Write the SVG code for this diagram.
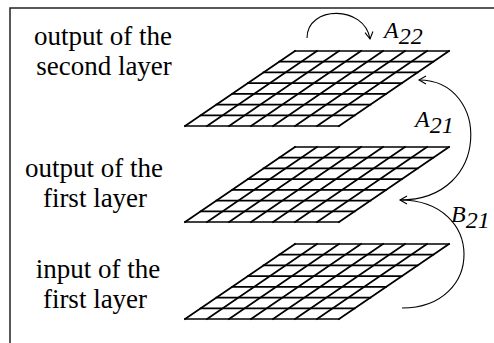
<svg xmlns="http://www.w3.org/2000/svg" xmlns:xlink="http://www.w3.org/1999/xlink" width="494" height="343" viewBox="0 0 494 343">
<style>
.frame{fill:none;stroke:#222;stroke-width:1.5}
.grid line{stroke:#000;stroke-width:1.7;stroke-linecap:square}
.lbl{font-family:"Liberation Serif","Times New Roman",serif;font-size:27px;fill:#000;text-anchor:middle}
.mat{font-family:"Liberation Serif","Times New Roman",serif;font-size:24px;font-style:italic;fill:#000}
.arc{fill:none;stroke:#000;stroke-width:1.1}
</style>
<defs>
<marker id="chev" viewBox="-8 -5 10 10" refX="0" refY="0" markerWidth="10" markerHeight="10" markerUnits="userSpaceOnUse" orient="auto">
<path d="M-7,-4 L0,0 L-7,4" fill="none" stroke="#000" stroke-width="1.1"/>
</marker>
<g id="grid" class="grid">
<line x1="110" y1="0" x2="264" y2="0"/>
<line x1="94.29" y1="10.71" x2="248.29" y2="10.71"/>
<line x1="78.57" y1="21.43" x2="232.57" y2="21.43"/>
<line x1="62.86" y1="32.14" x2="216.86" y2="32.14"/>
<line x1="47.14" y1="42.86" x2="201.14" y2="42.86"/>
<line x1="31.43" y1="53.57" x2="185.43" y2="53.57"/>
<line x1="15.71" y1="64.29" x2="169.71" y2="64.29"/>
<line x1="0" y1="75" x2="154" y2="75"/>
<line x1="110" y1="0" x2="0" y2="75"/>
<line x1="132" y1="0" x2="22" y2="75"/>
<line x1="154" y1="0" x2="44" y2="75"/>
<line x1="176" y1="0" x2="66" y2="75"/>
<line x1="198" y1="0" x2="88" y2="75"/>
<line x1="220" y1="0" x2="110" y2="75"/>
<line x1="242" y1="0" x2="132" y2="75"/>
<line x1="264" y1="0" x2="154" y2="75"/>
</g>
</defs>
<rect class="frame" x="10" y="8" width="520" height="400"/>
<g id="layer2">
<use xlink:href="#grid" transform="translate(185,51)"/>
<text class="lbl" x="103" y="45">output of the</text>
<text class="lbl" x="104" y="75">second layer</text>
</g>
<g id="layer1">
<use xlink:href="#grid" transform="translate(185,147)"/>
<text class="lbl" x="94" y="177">output of the</text>
<text class="lbl" x="95" y="207">first layer</text>
</g>
<g id="input">
<use xlink:href="#grid" transform="translate(185,244)"/>
<text class="lbl" x="98" y="278">input of the</text>
<text class="lbl" x="95" y="308">first layer</text>
</g>
<g id="connectors">
<path class="arc" d="M307,38 C307,5 365,5 370,39" marker-end="url(#chev)"/>
<path class="arc" d="M400,200 C492,200 490,80 419,80" marker-end="url(#chev)"/>
<path class="arc" d="M402,308 C485,308 485,200 400,200" marker-end="url(#chev)"/>
<text class="mat" x="384" y="38">A<tspan dy="6">22</tspan></text>
<text class="mat" x="415" y="127">A<tspan dy="6">21</tspan></text>
<text class="mat" x="451" y="222">B<tspan dy="6">21</tspan></text>
</g>
</svg>
